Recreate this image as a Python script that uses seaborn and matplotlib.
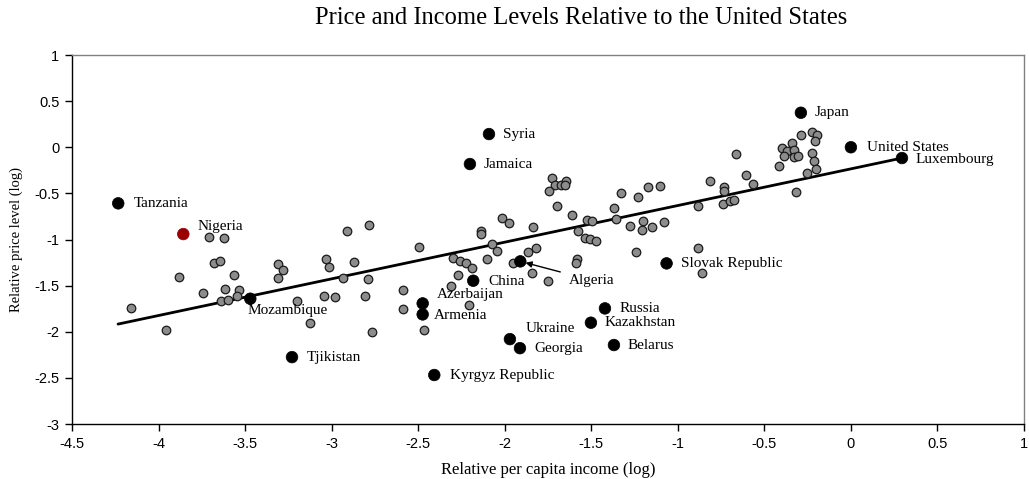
import matplotlib
matplotlib.use("Agg")
import matplotlib.pyplot as plt
import seaborn as sns
import pandas as pd

# ---------------- data ----------------
gray_x = [-3.707, -3.622, -3.680, -3.645, -3.882, -3.563, -3.745, -3.615, -3.537, -3.549,
          -3.640, -3.597, -4.158, -3.956,
          -2.910, -2.785, -2.497, -3.308, -3.283, -3.308, -3.033, -3.017, -2.873, -2.933,
          -2.792, -2.590, -3.202, -3.043, -2.983, -2.810, -2.590, -3.125, -2.766, -2.465,
          -1.726, -1.708, -1.677, -1.648, -1.654, -1.745, -1.697, -1.612, -2.018, -1.978,
          -1.835, -2.139, -2.139, -1.579, -2.074, -2.045, -1.864, -1.820, -2.301, -2.259,
          -2.225, -2.190, -2.105, -1.954, -1.581, -1.589, -1.845, -2.272, -1.749, -2.309,
          -2.206,
          -0.666, -1.327, -1.232, -1.175, -1.102, -0.815, -0.732, -0.732, -1.367, -0.882,
          -0.741, -0.697, -0.678, -1.527, -1.498, -1.359, -1.277, -1.200, -1.209, -1.151,
          -1.082, -1.537, -1.508, -1.475, -1.240, -0.882, -0.863,
          -0.287, -0.224, -0.195, -0.210, -0.339, -0.397, -0.368, -0.328, -0.387, -0.330,
          -0.305, -0.224, -0.214, -0.203, -0.414, -0.252, -0.607, -0.564, -0.320]
gray_y = [-0.970, -0.988, -1.255, -1.230, -1.404, -1.385, -1.581, -1.534, -1.548, -1.613,
          -1.664, -1.657, -1.747, -1.982,
          -0.912, -0.843, -1.082, -1.270, -1.335, -1.414, -1.216, -1.295, -1.241, -1.418,
          -1.432, -1.548, -1.664, -1.617, -1.627, -1.613, -1.757, -1.909, -2.000, -1.982,
          -0.334, -0.407, -0.410, -0.366, -0.407, -0.472, -0.637, -0.735, -0.771, -0.825,
          -0.868, -0.912, -0.944, -0.905, -1.049, -1.122, -1.133, -1.096, -1.201, -1.234,
          -1.252, -1.306, -1.215, -1.252, -1.215, -1.252, -1.360, -1.385, -1.447, -1.505,
          -1.707,
          -0.074, -0.497, -0.537, -0.431, -0.417, -0.363, -0.428, -0.472, -0.656, -0.641,
          -0.616, -0.580, -0.576, -0.789, -0.797, -0.778, -0.858, -0.800, -0.898, -0.868,
          -0.814, -0.988, -0.998, -1.013, -1.133, -1.096, -1.360,
          0.129, 0.165, 0.129, 0.070, 0.049, -0.005, -0.041, -0.030, -0.095, -0.109,
          -0.095, -0.066, -0.153, -0.233, -0.204, -0.283, -0.301, -0.403, -0.482]

label_names = ["Tanzania", "Nigeria", "Mozambique", "Tjikistan", "Kyrgyz Republic",
               "Azerbaijan", "Armenia", "China", "Syria", "Jamaica", "Algeria",
               "Ukraine", "Georgia", "Russia", "Kazakhstan", "Belarus",
               "Slovak Republic", "Japan", "United States", "Luxembourg"]
label_x = [-4.233, -3.857, -3.470, -3.229, -2.407, -2.474, -2.474, -2.182, -2.091, -2.201,
           -1.910, -1.970, -1.912, -1.421, -1.502, -1.369, -1.065, -0.289, 0.000, 0.295]
label_y = [-0.608, -0.941, -1.642, -2.275, -2.469, -1.693, -1.812, -1.447, 0.143, -0.182,
           -1.237, -2.080, -2.178, -1.747, -1.902, -2.144, -1.259, 0.374, 0.000, -0.117]

trend_x = [-4.234, 0.295]
trend_y = [-1.917, -0.117]

x_ticks = [-4.5, -4, -3.5, -3, -2.5, -2, -1.5, -1, -0.5, 0, 0.5, 1]
y_ticks = [-3, -2.5, -2, -1.5, -1, -0.5, 0, 0.5, 1]

title = "Price and Income Levels Relative to the United States"
x_label = "Relative per capita income (log)"
y_label = "Relative price level (log)"

# ---------------- style ----------------
sns.set_style("white")
plt.rcParams["font.family"] = ["Liberation Serif", "DejaVu Serif"]
plt.rcParams["text.color"] = "black"
plt.rcParams["axes.labelcolor"] = "black"
plt.rcParams["xtick.color"] = "black"
plt.rcParams["ytick.color"] = "black"

# label text offsets in pixels (dx, dy)
offsets = {
    "Tanzania": (16, 0), "Nigeria": (14, 8), "Mozambique": (-3, -12),
    "Tjikistan": (15, 0), "Kyrgyz Republic": (16, 0), "Azerbaijan": (14, 9),
    "Armenia": (11, -1), "China": (15, -1), "Syria": (14, 0), "Jamaica": (14, 0),
    "Ukraine": (16, 11), "Georgia": (14, 0), "Russia": (15, 0), "Kazakhstan": (14, 0),
    "Belarus": (14, 0), "Slovak Republic": (14, 0), "Japan": (14, 0),
    "United States": (16, 0), "Luxembourg": (14, -1),
}

fig = plt.figure(figsize=(10.29, 4.79), dpi=100)
ax = fig.add_axes([72 / 1029, 1 - 424 / 479, (1024 - 72) / 1029, (424 - 55) / 479])

gray_df = pd.DataFrame({"x": gray_x, "y": gray_y})
lab_df = pd.DataFrame({"name": label_names, "x": label_x, "y": label_y})
lab_df["color"] = ["#990000" if n == "Nigeria" else "black" for n in label_names]
trend_df = pd.DataFrame({"x": trend_x, "y": trend_y})

sns.lineplot(data=trend_df, x="x", y="y", ax=ax, color="black", linewidth=2.0,
             sort=False, zorder=2)
sns.scatterplot(data=gray_df, x="x", y="y", ax=ax, s=38, color="#8c8c8c",
                edgecolor="#1a1a1a", linewidth=0.9, zorder=3)
sns.scatterplot(data=lab_df, x="x", y="y", ax=ax, s=70, hue="name",
                palette=dict(zip(lab_df["name"], lab_df["color"])),
                edgecolor=lab_df["color"].tolist(), linewidth=0.5, legend=False, zorder=4)

for n, x, y in zip(label_names, label_x, label_y):
    if n == "Algeria":
        continue
    dx, dy = offsets[n]
    ax.annotate(n, (x, y), xytext=(dx, dy), textcoords="offset pixels",
                fontsize=11, ha="left", va="center", color="black")

# Algeria with arrow
ai = label_names.index("Algeria")
ax.annotate("Algeria", xy=(label_x[ai] + 0.03, label_y[ai] - 0.015),
            xytext=(-1.629, -1.442), textcoords="data", fontsize=11,
            ha="left", va="center", color="black",
            arrowprops=dict(arrowstyle="-|>", color="black", lw=1.0,
                            shrinkA=4, shrinkB=0, mutation_scale=9))

ax.set_xlim(-4.5, 1)
ax.set_ylim(-3, 1)
ax.set_xticks(x_ticks)
ax.set_yticks(y_ticks)
ax.set_xticklabels([f"{t:g}" for t in x_ticks], fontfamily="Liberation Sans", fontsize=10.5)
ax.set_yticklabels([f"{t:g}" for t in y_ticks], fontfamily="Liberation Sans", fontsize=10.5)
ax.tick_params(axis="both", direction="out", length=5, width=1, color="black", pad=4,
               bottom=True, left=True, labelcolor="black")
ax.set_xlabel(x_label, fontsize=12, labelpad=8, color="black")
ax.set_ylabel(y_label, fontsize=10.5, labelpad=8, color="black")

for side in ["left", "bottom"]:
    ax.spines[side].set_color("black")
    ax.spines[side].set_linewidth(1.0)
for side in ["top", "right"]:
    ax.spines[side].set_color("#808080")
    ax.spines[side].set_linewidth(1.0)

fig.text((313 + 849) / 2 / 1029, 1 - 18 / 479, title, ha="center", va="center",
         fontsize=17.7, color="black")

fig.savefig("out.png", dpi=100)
